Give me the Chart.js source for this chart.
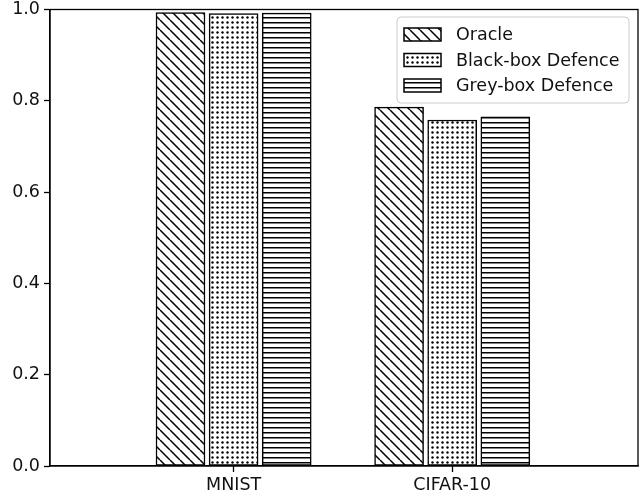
<!DOCTYPE html>
<html>
<head>
<meta charset="utf-8">
<script src="https://cdn.jsdelivr.net/npm/chart.js@4/dist/chart.umd.min.js"></script>
<style>
  body { margin: 0; background: #fff; }
  #BarChart { display: block; }
</style>
</head>
<body>
<canvas id="BarChart" width="642" height="497"></canvas>
<script>
const categories = ['MNIST', 'CIFAR-10'];
const seriesNames = ['Oracle', 'Black-box Defence', 'Grey-box Defence'];
const oracleAcc = [0.993, 0.786];
const blackBoxAcc = [0.991, 0.758];
const greyBoxAcc = [0.992, 0.765];
const yTicks = [0.0, 0.2, 0.4, 0.6, 0.8, 1.0];

Chart.defaults.font.family = 'DejaVu Sans';
Chart.defaults.font.size = 17.5;
Chart.defaults.color = '#111';

// hatch fills like matplotlib's '\\', '.', '-'
function makeHatch(kind) {
    const c = document.createElement('canvas');
    const s = kind === 'diag' ? 10 : 5;
    c.width = s;
    c.height = s;
    const g = c.getContext('2d');
    g.fillStyle = '#fff';
    g.fillRect(0, 0, s, s);
    g.strokeStyle = '#000';
    g.fillStyle = '#000';
    g.lineWidth = 1.5;
    if (kind === 'diag') {
        g.beginPath();
        for (let k = -1; k <= 1; k++) {
            g.moveTo(k * s, 0);
            g.lineTo(k * s + s, s);
        }
        g.stroke();
    } else if (kind === 'dots') {
        g.beginPath();
        g.arc(2.5, 2.5, 1.2, 0, Math.PI * 2);
        g.fill();
    } else {
        g.fillRect(0, 2, s, 1.5);
    }
    return g.createPattern(c, 'repeat');
}

const hatches = [makeHatch('diag'), makeHatch('dots'), makeHatch('horiz')];
const seriesValues = [oracleAcc, blackBoxAcc, greyBoxAcc];
const barOffsets = [-0.243, 0, 0.243];

const datasets = seriesNames.map((name, d) => ({
    label: name,
    data: seriesValues[d].map((v, i) => ({ x: i + barOffsets[d], y: v })),
    backgroundColor: hatches[d],
    borderColor: '#000',
    borderWidth: 1.5,
    borderSkipped: false,
    barThickness: 49,
    grouped: false
}));

const framePlugin = {
    id: 'frame',
    afterDatasetsDraw(chart) {
        const a = chart.chartArea;
        const ctx = chart.ctx;
        ctx.save();
        ctx.strokeStyle = '#000';
        ctx.lineWidth = 1.3;
        ctx.strokeRect(a.left, a.top, a.right - a.left, a.bottom - a.top);
        ctx.restore();
    }
};

const legendPlugin = {
    id: 'boxLegend',
    afterDraw(chart) {
        const a = chart.chartArea;
        const ctx = chart.ctx;
        const right = a.right - 9, top = a.top + 7.5;
        const left = 397, bottom = top + 86;
        ctx.save();
        ctx.beginPath();
        ctx.roundRect(left, top, right - left, bottom - top, 4);
        ctx.fillStyle = 'rgba(255,255,255,0.8)';
        ctx.fill();
        ctx.strokeStyle = '#ccc';
        ctx.lineWidth = 1;
        ctx.stroke();
        ctx.font = '17.5px "DejaVu Sans"';
        ctx.textBaseline = 'middle';
        chart.data.datasets.forEach((ds, i) => {
            const cy = top + 17.5 + i * 25.5;
            ctx.fillStyle = ds.backgroundColor;
            ctx.fillRect(404, cy - 6.5, 37, 13);
            ctx.strokeStyle = '#000';
            ctx.lineWidth = 1.5;
            ctx.strokeRect(404, cy - 6.5, 37, 13);
            ctx.fillStyle = '#111';
            ctx.fillText(ds.label, 456, cy + 1);
        });
        ctx.restore();
    }
};

const config_Bar = {
    type: 'bar',
    data: { datasets: datasets },
    options: {
        responsive: false,
        animation: false,
        devicePixelRatio: 1,
        layout: { padding: { top: 9.5, right: 4, left: 0, bottom: 0 } },
        scales: {
            x: {
                type: 'linear',
                min: -0.84,
                max: 1.85,
                offset: false,
                afterBuildTicks: (scale) => {
                    scale.ticks = categories.map((c, i) => ({ value: i }));
                },
                afterFit: (scale) => {
                    scale.height = 31;
                    scale.paddingLeft = 0;
                    scale.paddingRight = 0;
                },
                ticks: {
                    autoSkip: false,
                    maxRotation: 0,
                    padding: 3,
                    callback: (v) => categories[v]
                },
                grid: { offset: false, drawOnChartArea: false, tickLength: 6, tickWidth: 1.3, tickColor: '#000' },
                border: { display: true, color: '#000', width: 1.3 }
            },
            y: {
                min: 0,
                max: 1,
                afterBuildTicks: (scale) => {
                    scale.ticks = yTicks.map(v => ({ value: v }));
                },
                afterFit: (scale) => {
                    scale.width = 50;
                    scale.paddingTop = 0;
                    scale.paddingBottom = 0;
                },
                ticks: {
                    padding: 4,
                    callback: (v) => Number(v).toFixed(1)
                },
                grid: { drawOnChartArea: false, tickLength: 6, tickWidth: 1.3, tickColor: '#000' },
                border: { display: true, color: '#000', width: 1.3 }
            }
        },
        plugins: {
            legend: { display: false },
            tooltip: { enabled: false }
        }
    },
    plugins: [framePlugin, legendPlugin]
};

const myChart_Bar = new Chart(document.getElementById('BarChart'), config_Bar);
</script>
</body>
</html>
